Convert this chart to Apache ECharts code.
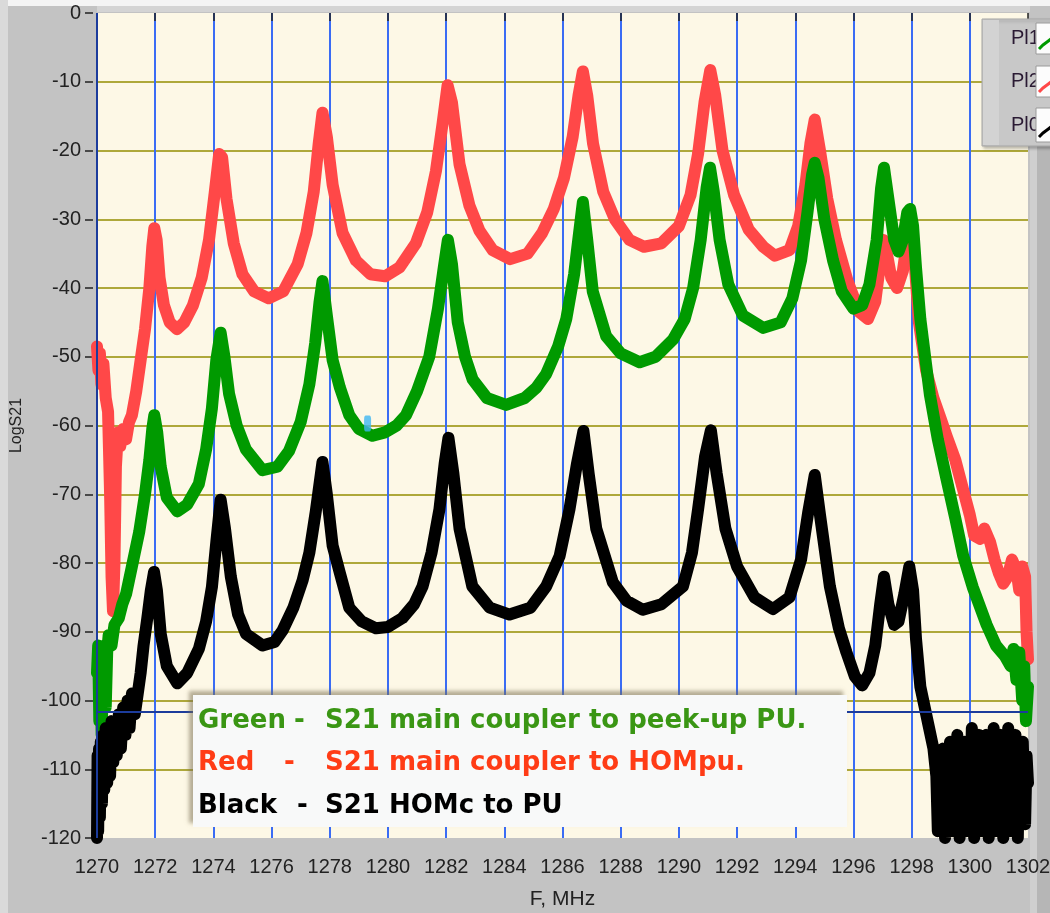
<!DOCTYPE html>
<html>
<head>
<meta charset="UTF-8">
<title>LogS21</title>
<script src="https://cdn.jsdelivr.net/npm/echarts@6.0.0/dist/echarts.min.js"></script>
<style>
	html, body { margin: 0; padding: 0; background: #c3c3c3; }
	#chart { width: 1050px; height: 913px; }
</style>
</head>
<body>
<div id="chart"></div>
<script>
// traces: [F MHz, LogS21]
var redTrace = [
	[1270.0, -48.5], [1270.05, -52], [1270.1, -49.5], [1270.15, -54], [1270.22, -51], [1270.3, -56], [1270.38, -58],
	[1270.45, -70], [1270.5, -82], [1270.55, -87], [1270.6, -80], [1270.65, -66], [1270.72, -61],
	[1270.8, -63], [1270.9, -60.5], [1271.0, -62], [1271.1, -59.5], [1271.2, -58.5], [1271.35, -55],
	[1271.5, -50.5], [1271.65, -46], [1271.8, -40], [1271.9, -34], [1271.97, -31.3], [1272.05, -33],
	[1272.15, -38.5], [1272.3, -42.5], [1272.5, -45], [1272.75, -46], [1273.0, -45], [1273.3, -42.5],
	[1273.6, -38.5], [1273.85, -33], [1274.05, -26], [1274.2, -20.5], [1274.3, -21], [1274.45, -27],
	[1274.7, -33.5], [1275.0, -38], [1275.4, -40.5], [1275.9, -41.5], [1276.4, -40.5], [1276.9, -36.5],
	[1277.2, -32], [1277.45, -26], [1277.62, -19], [1277.75, -14.5], [1277.9, -18], [1278.1, -25],
	[1278.44, -32], [1278.9, -36], [1279.4, -38], [1279.9, -38.3], [1280.4, -37], [1280.96, -33.5],
	[1281.35, -29], [1281.65, -23], [1281.88, -16], [1282.05, -10.5], [1282.2, -13], [1282.46, -22],
	[1282.8, -28], [1283.15, -31.7], [1283.6, -34.5], [1284.2, -35.8], [1284.8, -35], [1285.3, -32],
	[1285.7, -28.5], [1286.05, -24], [1286.35, -18], [1286.55, -12], [1286.7, -8.5], [1286.85, -12],
	[1287.05, -19], [1287.4, -26], [1287.8, -30], [1288.3, -33], [1288.8, -34], [1289.4, -33.5],
	[1290.0, -31], [1290.4, -26.5], [1290.66, -20.5], [1290.88, -13], [1291.08, -8.3], [1291.25, -12],
	[1291.5, -20], [1291.9, -26.5], [1292.4, -31.5], [1292.9, -34], [1293.3, -35.3], [1293.8, -34.5],
	[1294.1, -31], [1294.35, -25], [1294.52, -19], [1294.67, -15.5], [1294.85, -20], [1295.1, -27],
	[1295.4, -33], [1295.8, -39], [1296.2, -43.5], [1296.5, -44.5], [1296.75, -42], [1296.9, -37],
	[1297.02, -33], [1297.15, -35], [1297.3, -38.5], [1297.5, -40], [1297.7, -37.5], [1297.85, -33],
	[1298.0, -30.5], [1298.1, -36], [1298.25, -45], [1298.5, -52], [1298.75, -56], [1299.0, -59],
	[1299.2, -61.5], [1299.5, -65], [1299.78, -69.5], [1300.0, -73], [1300.15, -76], [1300.35, -76.5],
	[1300.5, -75], [1300.7, -77], [1300.85, -79.5], [1301.0, -81.5], [1301.15, -83], [1301.3, -82],
	[1301.45, -79.5], [1301.6, -81], [1301.7, -84], [1301.8, -80.5], [1301.9, -82], [1301.95, -90],
	[1302.0, -94]
];

var greenTrace = [
	[1270.0, -96], [1270.04, -92], [1270.08, -103], [1270.12, -94], [1270.16, -105], [1270.2, -97],
	[1270.25, -92], [1270.3, -101], [1270.35, -93], [1270.4, -90.5], [1270.5, -92], [1270.6, -89],
	[1270.75, -88], [1270.87, -86], [1271.0, -84.5], [1271.2, -80.5], [1271.45, -75.5], [1271.65, -70],
	[1271.8, -65], [1271.9, -60.5], [1271.97, -58.5], [1272.07, -61], [1272.19, -66], [1272.4, -70.5],
	[1272.76, -72.5], [1273.1, -71.5], [1273.5, -68.5], [1273.75, -63.5], [1273.95, -57.5], [1274.1, -50.5],
	[1274.25, -46.5], [1274.38, -50], [1274.54, -55.4], [1274.8, -60], [1275.12, -63.5], [1275.69, -66.5],
	[1276.2, -66], [1276.6, -63.7], [1277.0, -59.5], [1277.3, -54], [1277.5, -48], [1277.65, -42],
	[1277.75, -39], [1277.9, -44], [1278.1, -50.5], [1278.35, -54.5], [1278.67, -58.5], [1279.0, -60.5],
	[1279.47, -61.5], [1279.9, -61], [1280.3, -60], [1280.62, -58.5], [1281.0, -55], [1281.42, -50],
	[1281.72, -43], [1281.92, -37], [1282.06, -33], [1282.2, -36.5], [1282.4, -45], [1282.65, -50],
	[1282.91, -53.3], [1283.4, -56], [1284.06, -57], [1284.7, -56], [1285.1, -54.5], [1285.44, -52.5],
	[1285.85, -48.5], [1286.13, -44.5], [1286.4, -38], [1286.57, -32], [1286.7, -27.5], [1286.85, -33],
	[1287.04, -40.5], [1287.5, -47], [1288.0, -49.5], [1288.65, -50.8], [1289.2, -50], [1289.8, -47.5],
	[1290.2, -44.5], [1290.49, -40], [1290.75, -33], [1290.95, -25.5], [1291.07, -22.5], [1291.2, -26],
	[1291.4, -33], [1291.7, -39.5], [1292.2, -44], [1292.9, -45.8], [1293.5, -45], [1293.9, -41.5],
	[1294.2, -36], [1294.42, -29], [1294.58, -23.5], [1294.67, -21.8], [1294.8, -24], [1295.0, -30],
	[1295.3, -36], [1295.6, -40.5], [1296.0, -43], [1296.3, -42.5], [1296.55, -39.5], [1296.8, -33],
	[1296.95, -25.5], [1297.05, -22.5], [1297.2, -27], [1297.4, -33], [1297.55, -34.7], [1297.7, -33],
	[1297.85, -29], [1297.95, -28.5], [1298.05, -31], [1298.15, -37], [1298.3, -44.5], [1298.63, -55.6],
	[1298.9, -62], [1299.2, -67.8], [1299.5, -73.5], [1299.77, -78.9], [1300.1, -83.5], [1300.58, -89],
	[1300.9, -92], [1301.2, -93.5], [1301.4, -95], [1301.5, -92.5], [1301.6, -97], [1301.7, -93],
	[1301.8, -100], [1301.87, -95], [1301.93, -103], [1302.0, -98]
];

var blackTrace = [
	[1270.0, -120], [1270.02, -108], [1270.04, -119], [1270.07, -107], [1270.1, -117], [1270.13, -106],
	[1270.17, -115], [1270.21, -105], [1270.25, -113], [1270.3, -104], [1270.35, -112], [1270.4, -104],
	[1270.45, -111], [1270.5, -103], [1270.56, -109], [1270.62, -103], [1270.68, -108], [1270.75, -102],
	[1270.82, -107], [1270.9, -101], [1270.98, -105], [1271.05, -100], [1271.12, -104], [1271.2, -99],
	[1271.3, -102], [1271.4, -99], [1271.5, -96], [1271.6, -92], [1271.73, -88], [1271.85, -84],
	[1271.96, -81.3], [1272.06, -84], [1272.19, -90.3], [1272.4, -95], [1272.76, -97.5], [1273.1, -96],
	[1273.5, -92.5], [1273.75, -88.5], [1273.95, -83.5], [1274.1, -77], [1274.25, -70.8], [1274.4, -75],
	[1274.6, -82], [1274.85, -87.5], [1275.12, -90.3], [1275.69, -92], [1276.1, -91.5], [1276.38, -89.8],
	[1276.75, -86.5], [1277.07, -82.5], [1277.3, -78.5], [1277.52, -72.5], [1277.75, -65.3], [1277.9, -70],
	[1278.1, -77.5], [1278.35, -81.5], [1278.67, -86.5], [1279.1, -88.5], [1279.59, -89.5], [1280.0, -89.3],
	[1280.5, -88], [1280.9, -86], [1281.19, -83.4], [1281.5, -78.5], [1281.77, -72.2], [1281.95, -65.5],
	[1282.08, -61.8], [1282.25, -67], [1282.46, -75], [1282.9, -83.4], [1283.5, -86.5], [1284.18, -87.5],
	[1284.9, -86.5], [1285.44, -83.4], [1285.9, -79], [1286.24, -72.2], [1286.5, -65.5], [1286.72, -60.8],
	[1286.9, -67], [1287.16, -75], [1287.73, -82.8], [1288.2, -85.5], [1288.76, -86.8], [1289.4, -86],
	[1290.14, -83.4], [1290.45, -78.5], [1290.66, -72.2], [1290.9, -64.5], [1291.1, -60.7], [1291.3, -67],
	[1291.6, -75], [1292.0, -80.5], [1292.6, -85], [1293.23, -86.7], [1293.8, -85], [1294.2, -79.5],
	[1294.45, -72.5], [1294.67, -67.2], [1294.85, -73], [1295.19, -83.4], [1295.5, -89.5], [1295.76, -93],
	[1296.05, -96.5], [1296.3, -97.8], [1296.55, -96], [1296.75, -92], [1296.92, -86], [1297.05, -82],
	[1297.2, -86], [1297.4, -89], [1297.55, -88.5], [1297.75, -84.5], [1297.92, -80.5], [1298.05, -84],
	[1298.15, -91], [1298.3, -98], [1298.45, -101], [1298.6, -104], [1298.75, -107], [1298.85, -111],
	[1298.9, -119], [1298.95, -109], [1299.02, -116], [1299.08, -107], [1299.15, -120], [1299.2, -108],
	[1299.27, -114], [1299.32, -106], [1299.4, -119], [1299.45, -108], [1299.52, -113], [1299.57, -105],
	[1299.65, -120], [1299.7, -107], [1299.77, -115], [1299.82, -106], [1299.9, -119], [1299.95, -108],
	[1300.02, -113], [1300.07, -104], [1300.15, -120], [1300.2, -106], [1300.27, -114], [1300.32, -105],
	[1300.4, -119], [1300.45, -107], [1300.52, -112], [1300.57, -105], [1300.65, -120], [1300.7, -106],
	[1300.77, -113], [1300.82, -104], [1300.9, -119], [1300.95, -107], [1301.02, -114], [1301.07, -105],
	[1301.15, -120], [1301.2, -106], [1301.27, -113], [1301.32, -104], [1301.4, -119], [1301.45, -106],
	[1301.52, -112], [1301.57, -105], [1301.65, -120], [1301.7, -107], [1301.77, -114], [1301.82, -106],
	[1301.9, -118], [1301.95, -108], [1302.0, -112]
];

var seriesNames = ['Pl1', 'Pl2', 'Pl0'];
var cursorLevel = -101.7;
var cursorFreq = 1270;
var cursorMark = [[1279.3, -59.7]];

var noteLines = [
	{ head: 'Green', dash: '-', dashX: 294, body: 'S21 main coupler to peek-up PU.', color: '#3a9614' },
	{ head: 'Red', dash: '-', dashX: 284, body: 'S21 main coupler to HOMpu.', color: '#ff3c16' },
	{ head: 'Black', dash: '-', dashX: 297, body: 'S21 HOMc to PU', color: '#000000' }
];

var chart = echarts.init(document.getElementById('chart'));

var labelFont = '"Liberation Sans", Arial, sans-serif';
var noteFont = 'bold 26px "DejaVu Sans", Verdana, sans-serif';

// annotation box, legend box and window chrome
var graphics = [
	{ type: 'rect', shape: { x: 0, y: 0, width: 8, height: 913 }, style: { fill: '#dadada' }, silent: true },
	{ type: 'rect', shape: { x: 8, y: 0, width: 1042, height: 6 }, style: { fill: '#f4f4f4' }, silent: true },
	{ type: 'rect', shape: { x: 97, y: 6, width: 933, height: 6 }, style: { fill: '#d4d4d4' }, silent: true },
	{ type: 'rect', shape: { x: 1030, y: 146, width: 7, height: 767 }, style: { fill: '#cfcfcf' }, silent: true },
	{ type: 'rect', shape: { x: 1037, y: 146, width: 13, height: 767 }, style: { fill: '#b6b6b6' }, silent: true },
	{
		type: 'rect', z: 100, silent: true,
		shape: { x: 193, y: 695, width: 654, height: 132 },
		style: { fill: '#f8f9f9', shadowBlur: 4, shadowOffsetX: -4, shadowOffsetY: -4, shadowColor: 'rgba(120,110,80,0.55)' }
	}
];
noteLines.forEach(function(line, i) {
	var y = 721 + i * 42.5;
	graphics.push({ type: 'text', z: 101, silent: true, style: { x: 198, y: y, text: line.head, font: noteFont, fill: line.color, verticalAlign: 'middle' } });
	graphics.push({ type: 'text', z: 101, silent: true, style: { x: line.dashX, y: y, text: line.dash, font: noteFont, fill: line.color, verticalAlign: 'middle' } });
	graphics.push({ type: 'text', z: 101, silent: true, style: { x: 325, y: y, text: line.body, font: noteFont, fill: line.color, verticalAlign: 'middle' } });
});

var legendColors = ['#009a00', '#ff4848', '#000000'];
var legendRows = [[23, 31], [66, 31], [108, 34]];
graphics.push({
	type: 'rect', z: 100, silent: true,
	shape: { x: 982, y: 19, width: 70, height: 127 },
	style: { fill: '#c8c8c8', stroke: '#a9a9a9', lineWidth: 1, shadowBlur: 3, shadowOffsetX: 2, shadowOffsetY: 2, shadowColor: 'rgba(0,0,0,0.25)' }
});
graphics.push({ type: 'rect', z: 100, silent: true, shape: { x: 983, y: 20, width: 16, height: 125 }, style: { fill: '#d3d3d3' } });
seriesNames.forEach(function(name, i) {
	var top = legendRows[i][0], h = legendRows[i][1];
	graphics.push({ type: 'text', z: 101, silent: true, style: { x: 1011, y: top + h / 2, text: name, font: '20px ' + labelFont, fill: '#2a1a33', verticalAlign: 'middle' } });
	graphics.push({ type: 'rect', z: 102, silent: true, shape: { x: 1036, y: top, width: 16, height: h }, style: { fill: '#fcfcfc', stroke: '#9a9a9a', lineWidth: 1 } });
	graphics.push({
		type: 'polyline', z: 103, silent: true,
		shape: { points: [[1039, top + h - 5], [1043, top + h - 9], [1047, top + h - 12], [1051, top + h - 15]] },
		style: { stroke: legendColors[i], lineWidth: 3, fill: null }
	});
});

function trace(name, data, color) {
	return {
		name: name,
		type: 'line',
		data: data,
		showSymbol: false,
		silent: true,
		animation: false,
		lineStyle: { color: color, width: 12, cap: 'round', join: 'round' }
	};
}

var series = [
	trace(seriesNames[1], redTrace, '#ff4848'),
	trace(seriesNames[0], greenTrace, '#009a00'),
	trace(seriesNames[2], blackTrace, '#000000')
];
series[2].markLine = {
	silent: true,
	symbol: 'none',
	label: { show: false },
	lineStyle: { color: '#1c3c9c', width: 2, type: 'solid' },
	data: [{ yAxis: cursorLevel }, { xAxis: cursorFreq }]
};
series.push({
	type: 'scatter',
	data: cursorMark,
	symbol: 'roundRect',
	symbolSize: [7, 16],
	silent: true,
	itemStyle: { color: '#3fb6f2' },
	z: 5
});

function plain(v) { return String(v); }

chart.setOption({
	animation: false,
	backgroundColor: '#c3c3c3',
	grid: {
		left: 97, right: 22, top: 13, bottom: 75,
		outerBoundsMode: 'none',
		containLabel: false,
		show: true, backgroundColor: '#fdf8e6', borderWidth: 0
	},
	xAxis: {
		type: 'value',
		min: 1270, max: 1302, interval: 2,
		offset: 5,
		name: 'F, MHz',
		nameLocation: 'middle',
		nameGap: 46,
		nameTextStyle: { fontSize: 21, color: '#222', fontFamily: labelFont },
		axisLine: { show: false },
		axisTick: { show: true, length: 8, lineStyle: { color: '#222', width: 1.5 } },
		axisLabel: { fontSize: 20, color: '#222', margin: 14, fontFamily: labelFont, formatter: plain },
		splitLine: { show: true, showMinLine: false, showMaxLine: false, lineStyle: { color: '#3a6cf4', width: 2 } }
	},
	yAxis: {
		type: 'value',
		min: -120, max: 0, interval: 10,
		offset: 4,
		name: 'LogS21',
		nameLocation: 'middle',
		nameGap: 68,
		nameRotate: 90,
		nameTextStyle: { fontSize: 16, color: '#222', fontFamily: labelFont },
		axisLine: { show: false },
		axisTick: { show: true, length: 8, lineStyle: { color: '#222', width: 1.5 } },
		axisLabel: { fontSize: 20, color: '#222', margin: 12, fontFamily: labelFont, formatter: plain },
		splitLine: { show: true, showMinLine: false, showMaxLine: false, lineStyle: { color: '#aea83a', width: 2 } }
	},
	graphic: graphics,
	series: series
});
</script>
</body>
</html>
